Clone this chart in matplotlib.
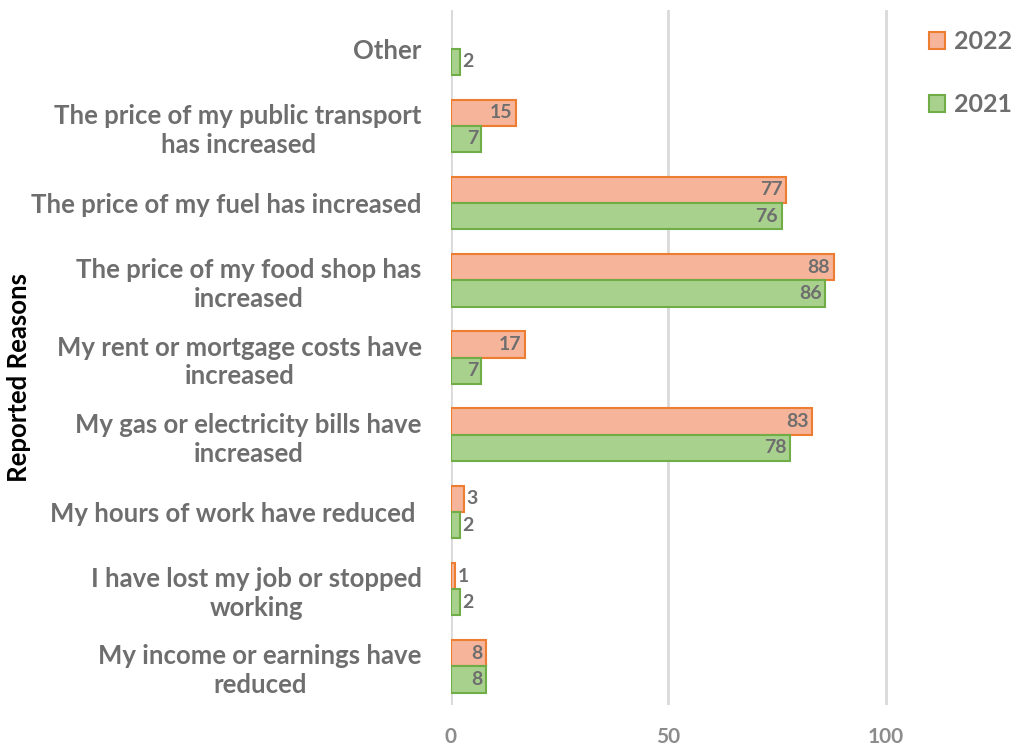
import numpy as np
import matplotlib.pyplot as plt
from matplotlib.patches import Patch

plt.rcParams['font.family'] = ['Lato', 'DejaVu Sans']

reasons = [
    'My income or earnings have\nreduced',
    'I have lost my job or stopped\nworking',
    'My hours of work have reduced ',
    'My gas or electricity bills have\nincreased',
    'My rent or mortgage costs have\nincreased',
    'The price of my food shop has\nincreased',
    'The price of my fuel has increased',
    'The price of my public transport\nhas increased',
    'Other',
]
vals_2022 = [8, 1, 3, 83, 17, 88, 77, 15, np.nan]
vals_2021 = [8, 2, 2, 78, 7, 86, 76, 7, 2]

fill_22, edge_22 = '#F6B49B', '#ED7D31'
fill_21, edge_21 = '#A9D18E', '#70AD47'
text_grey = '#6E6E6E'

fig = plt.figure(figsize=(10.12, 7.47), dpi=100)
ax = fig.add_axes([451 / 1012, 42 / 747, 561 / 1012, 695 / 747])

y = np.arange(len(reasons))
h = 0.34
b22 = ax.barh(y + h / 2, vals_2022, height=h, color=fill_22,
              edgecolor=edge_22, linewidth=1.5, label='2022', zorder=3)
b21 = ax.barh(y - h / 2, vals_2021, height=h, color=fill_21,
              edgecolor=edge_21, linewidth=1.5, label='2021', zorder=3)

# value labels: inside the bar end when there is room, otherwise just outside
for bars, vals in ((b22, vals_2022), (b21, vals_2021)):
    for bar, v in zip(bars, vals):
        if np.isnan(v):
            continue
        yc = bar.get_y() + bar.get_height() / 2
        if v >= 7:
            ax.text(v - 0.8, yc, f'{v:g}', ha='right', va='center',
                    fontsize=14, fontweight='bold', color=text_grey, zorder=4)
        else:
            ax.text(v + 0.6, yc, f'{v:g}', ha='left', va='center',
                    fontsize=14, fontweight='bold', color=text_grey, zorder=4)

ax.set_xlim(0, 129)
ax.set_ylim(-0.5, len(reasons) - 0.5)
ax.set_xticks([0, 50, 100])
ax.set_yticks(y)
ax.set_yticklabels(reasons)
for lab in ax.get_yticklabels():
    lab.set_multialignment('center')
    lab.set_linespacing(1.25)
ax.tick_params(axis='y', length=0, pad=21, labelsize=18.5, labelcolor=text_grey)
ax.tick_params(axis='x', length=0, pad=16, labelsize=15, labelcolor='#8C8C8C')
for lab in ax.get_yticklabels() + ax.get_xticklabels():
    lab.set_fontweight('bold')

ax.grid(axis='x', color='#D9D9D9', linewidth=2, zorder=0)
for s in ax.spines.values():
    s.set_visible(False)

fig.text(19 / 1012, 370 / 747, 'Reported Reasons', rotation=90, ha='center',
         va='center', fontsize=18.5, fontweight='bold', color='black')

handles = [Patch(facecolor=fill_22, edgecolor=edge_22, linewidth=1.5, label='2022'),
           Patch(facecolor=fill_21, edgecolor=edge_21, linewidth=1.5, label='2021')]
leg = fig.legend(handles=handles, loc='upper left', bbox_to_anchor=(929 / 1012, 1 - 30 / 747),
                 frameon=False, borderpad=0, borderaxespad=0,
                 handlelength=0.65, handleheight=0.65, handletextpad=0.35,
                 labelspacing=1.6, prop={'size': 18, 'weight': 'bold'})
for t in leg.get_texts():
    t.set_color(text_grey)

fig.savefig('out.png', dpi=100)
